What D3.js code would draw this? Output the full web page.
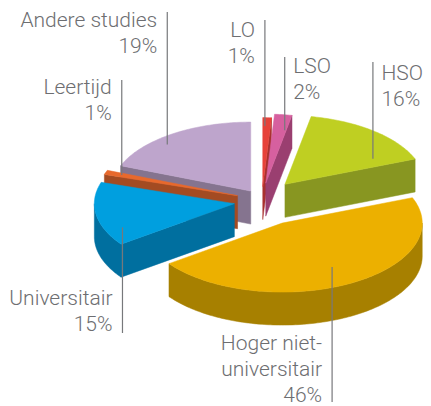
<!DOCTYPE html>
<html>
<head>
<meta charset="utf-8">
<script src="https://cdn.jsdelivr.net/npm/d3@7"></script>
<style>
body { margin: 0; background: #fff; }
svg { display: block; }
text { font-family: Roboto, "Liberation Sans", sans-serif; font-weight: 300; font-size: 21px; fill: #6d6e71; }
</style>
</head>
<body>
<svg id="chart" width="431" height="406"></svg>
<script>
// data
const categories = ["LO", "LSO", "HSO", "Hoger niet-universitair", "Universitair", "Leertijd", "Andere studies"];
const values = [1, 2, 16, 46, 15, 1, 19];
const labelLines = [["LO"], ["LSO"], ["HSO"], ["Hoger niet-", "universitair"], ["Universitair"], ["Leertijd"], ["Andere studies"]];

// look
const topColors = ["#e6423a", "#d6609f", "#bfcf22", "#ecb000", "#009fdf", "#e8692c", "#bea5cc"];
const sideColors = ["#a8302f", "#9a3f70", "#889621", "#a78000", "#006f9f", "#a34b22", "#85748f"];
const explode = [24, 30, 36, 42, 28, 26, 20];
// where each leader touches its slice (pie angle in degrees, radius fraction) and where its text sits
const labelPos = [
    {ang: 1, rf: 0.88, side: "left", y: 37, end: 20},
    {ang: 10, rf: 0.78, side: "right", y: 73, end: 57},
    {ang: 59.4, rf: 0.73, side: "right", y: 80, end: 62},
    {ang: 150.8, rf: 0.73, side: "left", y: 350, end: 402},
    {ang: 246.7, rf: 0.87, side: "left", y: 305, end: 333},
    {ang: 290, rf: 0.88, side: "left", y: 94, end: 80},
    {ang: 318.5, rf: 0.9, side: "left", y: 27, end: 12}
];

const cx = 262, cy = 201, rx = 140, ry = 69, depth = 33, lineH = 26, tiltOff = 0.6;
const svg = d3.select("#chart");

const pie = d3.pie().sort(null).value(d => d);
const slices = pie(values).map((p, i) => {
    const mid = (p.startAngle + p.endAngle) / 2;
    return {
        i: i,
        a0: p.startAngle,
        a1: p.endAngle,
        mid: mid,
        ax: cx + explode[i] * Math.sin(mid),
        ay: cy - explode[i] * tiltOff * Math.cos(mid)
    };
});

function pt(s, a, rf, dy) {
    return [s.ax + rx * rf * Math.sin(a), s.ay - ry * rf * Math.cos(a) + (dy || 0)];
}

function arcPts(s, a0, a1, dy) {
    const n = Math.max(2, Math.ceil((a1 - a0) / 0.02));
    return d3.range(n + 1).map(k => pt(s, a0 + (a1 - a0) * k / n, 1, dy));
}

const line = d3.line();
const closed = pts => line(pts) + "Z";

// back slices first
const order = slices.slice().sort((a, b) => (-Math.cos(a.mid)) - (-Math.cos(b.mid)));

const g = svg.append("g");
order.forEach(s => {
    const sg = g.append("g").attr("class", "slice_" + s.i);
    const apexTop = [s.ax, s.ay], apexBot = [s.ax, s.ay + depth];

    // outer wall, only the front half shows
    const c0 = Math.max(s.a0, Math.PI / 2), c1 = Math.min(s.a1, Math.PI * 1.5);
    if (c1 > c0) {
        const top = arcPts(s, c0, c1, 0);
        const bot = arcPts(s, c0, c1, depth).reverse();
        sg.append("path").attr("d", closed(top.concat(bot)))
            .attr("fill", sideColors[s.i]).attr("stroke", sideColors[s.i]).attr("stroke-width", 0.5);
    }
    // cut faces facing the viewer
    [[s.a0, Math.sin(s.a0) < 0], [s.a1, Math.sin(s.a1) > 0]].forEach(([a, vis]) => {
        if (!vis) return;
        const p = pt(s, a, 1, 0), q = pt(s, a, 1, depth);
        sg.append("path").attr("d", closed([apexTop, p, q, apexBot]))
            .attr("fill", sideColors[s.i]).attr("stroke", sideColors[s.i]).attr("stroke-width", 0.5);
    });
    // top face
    sg.append("path").attr("d", closed([apexTop].concat(arcPts(s, s.a0, s.a1, 0))))
        .attr("fill", topColors[s.i]).attr("stroke", topColors[s.i]).attr("stroke-width", 0.5);
});

// labels with leader lines
const lab = svg.append("g");
slices.forEach(s => {
    const lp = labelPos[s.i];
    const anchor = pt(s, lp.ang * Math.PI / 180, lp.rf, 0);
    const x = anchor[0];
    lab.append("line")
        .attr("x1", x).attr("y1", anchor[1])
        .attr("x2", x).attr("y2", lp.end)
        .attr("stroke", "#77787b").attr("stroke-width", 1.2);
    const lines = labelLines[s.i].concat([values[s.i] + "%"]);
    const t = lab.append("text")
        .attr("text-anchor", lp.side === "left" ? "end" : "start");
    lines.forEach((txt, k) => {
        t.append("tspan")
            .attr("x", lp.side === "left" ? x - 10 : x + 8.5)
            .attr("y", lp.y + k * lineH)
            .text(txt);
    });
});
</script>
</body>
</html>
